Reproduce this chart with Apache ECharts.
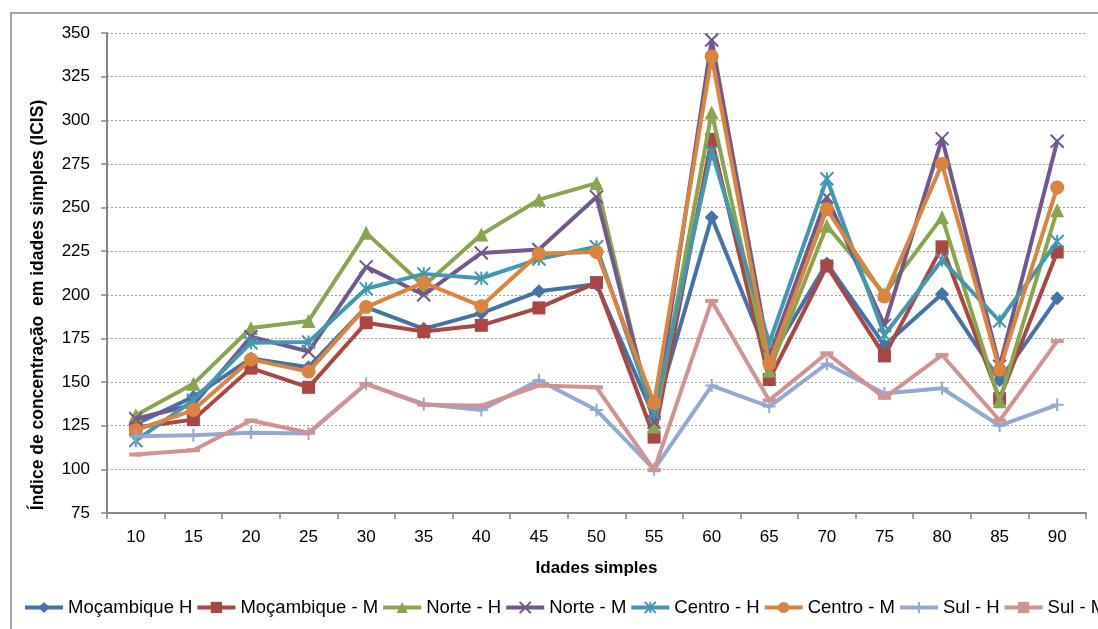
<!DOCTYPE html>
<html>
<head>
<meta charset="utf-8">
<script src="https://cdn.jsdelivr.net/npm/echarts@6/dist/echarts.min.js"></script>
<style>
html,body{margin:0;padding:0;background:#fff;}
#c{width:1098px;height:629px;}
</style>
</head>
<body>
<div id="c"></div>
<script>
const categories = ['10','15','20','25','30','35','40','45','50','55','60','65','70','75','80','85','90'];
const yTicks = { min: 75, max: 350, interval: 25 };

const mocH   = [126, 141.5, 163.5, 158.5, 193, 180.5, 189.5, 202, 206, 130, 244.5, 163, 218, 171, 200.5, 151, 198];
const mocM   = [124, 128.5, 158, 147, 184, 179, 182.5, 192.5, 207, 118.5, 289, 151.5, 216.5, 165, 227.5, 140.5, 224.5];
const norteH = [131, 149, 181, 185, 235.5, 205, 234.5, 254.5, 264, 124.5, 304.5, 156.5, 239.5, 200.5, 244.5, 139, 248.5];
const norteM = [129, 137, 176, 167.5, 216, 200, 224, 226, 256, 127, 346, 165, 256, 182.5, 289.5, 159, 288];
const centroH= [116.5, 139.5, 172.5, 173, 203.5, 212, 209.5, 220.5, 227.5, 132, 282, 172.5, 266.5, 177, 220, 185, 230.5];
const centroM= [122.5, 134, 163, 156, 193, 207, 193.5, 223.5, 224.5, 138, 336.5, 160.5, 249, 199, 275, 157, 261.5];
const sulH   = [119, 119.5, 121, 120.5, 149, 137.5, 134, 151, 134, 100, 148, 136, 160.5, 143.5, 146.5, 125, 137];
const sulM   = [108.5, 111, 128, 121, 149, 137, 136.5, 148, 147, 99.5, 196.5, 139.5, 166.5, 141, 165.5, 128, 173.5];

const names  = ['Moçambique H','Moçambique - M','Norte - H','Norte - M','Centro - H','Centro - M','Sul - H','Sul - M'];
const values = [mocH, mocM, norteH, norteM, centroH, centroM, sulH, sulM];
const colors = ['#4572A7','#AA4643','#89A54E','#71588F','#4198AF','#DB843D','#93A9CF','#D19392'];
const symbols = [
  'diamond', 'rect', 'triangle',
  'path://M0,0L10,10M0,10L10,0',
  'path://M5,0L5,10M0,0L10,10M0,10L10,0',
  'circle',
  'path://M5,0L5,10M0,5L10,5',
  'rect'
];
const sizes = [14, 13, 14, 13, 13, 14, 13, [13,4]];
const stroked = [false,false,false,true,true,false,true,false];

const FONT = 'Liberation Sans, Arial, sans-serif';

const series = names.map((n, i) => ({
  name: n,
  type: 'line',
  data: values[i],
  symbol: symbols[i],
  symbolSize: sizes[i],
  showAllSymbol: true,
  color: colors[i],
  lineStyle: { width: 4, color: colors[i] },
  itemStyle: stroked[i]
    ? { color: colors[i], borderColor: colors[i], borderWidth: 2 }
    : { color: colors[i], borderWidth: 0 },
  emphasis: { disabled: true },
  z: 2 + i
}));

const chart = echarts.init(document.getElementById('c'), null, { renderer: 'canvas' });
chart.setOption({
  animation: false,
  backgroundColor: '#fff',
  textStyle: { fontFamily: FONT },
  graphic: [{
    type: 'rect',
    shape: { x: 11, y: 13, width: 1200, height: 800 },
    style: { fill: 'none', stroke: '#A6A6A6', lineWidth: 2 },
    silent: true, z: -10
  }, {
    type: 'text',
    x: 38, y: 305,
    rotation: Math.PI / 2,
    style: {
      text: 'Índice de concentração  em idades simples (ICIS)',
      fontFamily: FONT, fontSize: 17.5, fontWeight: 'bold', fill: '#000',
      align: 'center', verticalAlign: 'middle'
    },
    silent: true
  }],
  grid: { left: 107, right: 12, top: 33, bottom: 116, containLabel: false },
  legend: {
    data: names,
    left: 18, top: 593,
    width: 1400,
    itemWidth: 38, itemHeight: 14, itemGap: 3,
    lineStyle: { width: 4 },
    textStyle: { fontFamily: FONT, fontSize: 18.5, color: '#000' },
    selectedMode: false
  },
  xAxis: {
    type: 'category',
    data: categories,
    boundaryGap: true,
    name: 'Idades simples',
    nameLocation: 'middle',
    nameGap: 47,
    nameTextStyle: { fontFamily: FONT, fontSize: 17, fontWeight: 'bold', color: '#000' },
    axisLine: { lineStyle: { color: '#868686', width: 2 } },
    axisTick: { show: true, length: 6, lineStyle: { color: '#868686', width: 1.5 } },
    axisLabel: { fontFamily: FONT, fontSize: 17, color: '#000', margin: 16 },
    splitLine: { show: false }
  },
  yAxis: {
    type: 'value',
    min: yTicks.min, max: yTicks.max, interval: yTicks.interval,
    axisLine: { show: true, lineStyle: { color: '#868686', width: 2 } },
    axisTick: { show: true, length: 6, lineStyle: { color: '#868686', width: 1.5 } },
    axisLabel: { fontFamily: FONT, fontSize: 17, color: '#000', margin: 17 },
    splitLine: { show: true, lineStyle: { color: '#A0A0A0', type: [2, 2], width: 1 } }
  },
  series: series
});
</script>
</body>
</html>
